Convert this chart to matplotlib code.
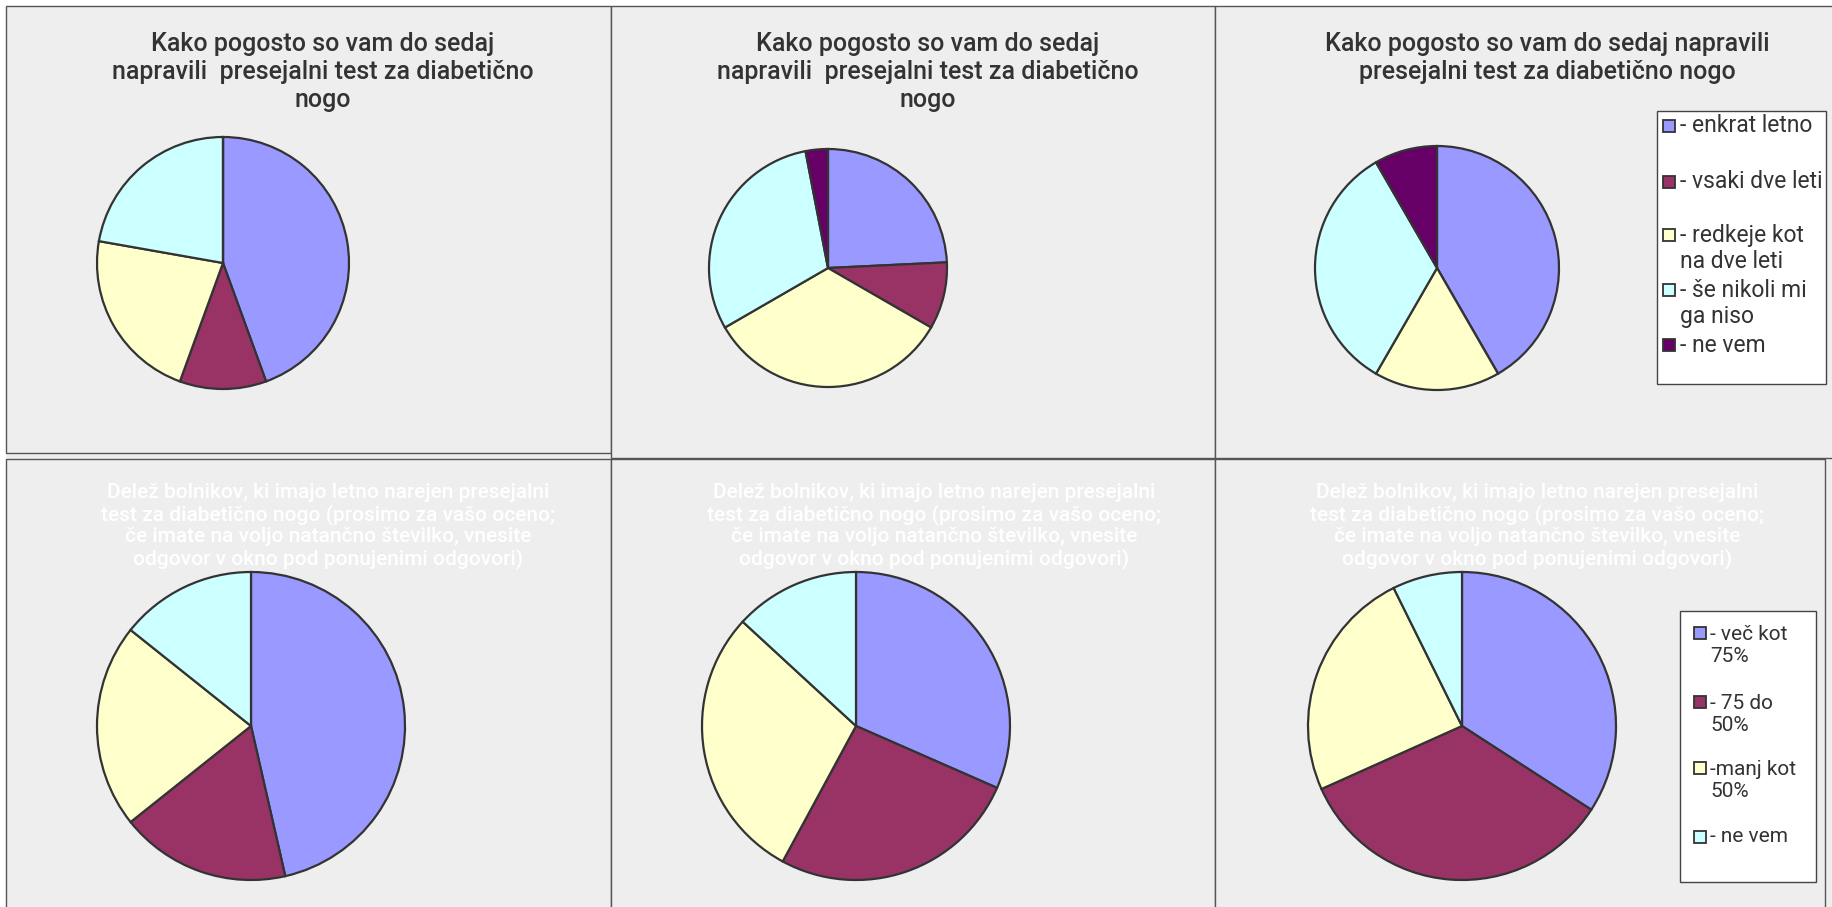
import matplotlib.pyplot as plt
from matplotlib.patches import Rectangle

W, H = 1833, 907

# ---------------- data ----------------
freq_labels = ["- enkrat letno", "- vsaki dve leti", "- redkeje kot\nna dve leti",
               "- še nikoli mi\nga niso", "- ne vem"]
freq_a = [4, 1, 2, 2, 0]
freq_b = [8, 3, 11, 10, 1]
freq_c = [5, 0, 2, 4, 1]
freq_colors = ["#9999FF", "#993366", "#FFFFCC", "#CCFFFF", "#660066"]

share_labels = ["- več kot\n75%", "- 75 do\n50%", "-manj kot\n50%", "- ne vem"]
share_a = [13, 5, 6, 4]
share_b = [12, 10, 11, 5]
share_c = [14, 14, 10, 3]
share_colors = ["#9999FF", "#993366", "#FFFFCC", "#CCFFFF"]

title_top_2 = "Kako pogosto so vam do sedaj\nnapravili  presejalni test za diabetično\nnogo"
title_top_1 = "Kako pogosto so vam do sedaj napravili\npresejalni test za diabetično nogo"
title_bottom = ("Delež bolnikov, ki imajo letno narejen presejalni\n"
                "test za diabetično nogo (prosimo za vašo oceno;\n"
                "če imate na voljo natančno številko, vnesite\n"
                "odgovor v okno pod ponujenimi odgovori)")

plt.rcParams['font.family'] = ['Roboto', 'DejaVu Sans']
fig = plt.figure(figsize=(W / 100, H / 100), dpi=100, facecolor="white")


def fx(x):
    return x / W


def fy(y):
    return 1 - y / H


def box(x0, y0, x1, y1, fc, ec="#555555", lw=1.0, z=-5):
    fig.add_artist(Rectangle((fx(x0), fy(y1)), (x1 - x0) / W, (y1 - y0) / H,
                             transform=fig.transFigure, fc=fc, ec=ec, lw=lw,
                             zorder=z))


# panel backgrounds
box(6, 6, W + 5, H + 5, "#EEEEEE", ec="none", z=-6)
box(6, 6, 611, 453, "#EEEEEE")
box(611, 6, 1215, 458, "#EEEEEE")
box(1215, 6, W + 5, 458, "#EEEEEE")
box(6, 459, 611, H + 5, "#EEEEEE")
box(611, 459, 1215, H + 5, "#EEEEEE")
box(1215, 459, 1825, H + 5, "#EEEEEE")


def pie(cx, cy, r, vals, cols):
    pad = 3
    ax = fig.add_axes([fx(cx - r - pad), fy(cy + r + pad),
                       2 * (r + pad) / W, 2 * (r + pad) / H])
    ax.pie(vals, colors=cols, startangle=90, counterclock=False, radius=r,
           wedgeprops=dict(edgecolor="#333333", linewidth=1.6))
    ax.set_xlim(-r - pad, r + pad)
    ax.set_ylim(-r - pad, r + pad)
    ax.set_aspect("equal")
    ax.axis("off")


pie(223, 263, 126, freq_a, freq_colors)
pie(828, 268, 119, freq_b, freq_colors)
pie(1437, 268, 122, freq_c, freq_colors)
pie(251, 726, 154, share_a, share_colors)
pie(856, 726, 154, share_b, share_colors)
pie(1462, 726, 154, share_c, share_colors)

# titles
tkw = dict(ha="center", va="center", fontsize=18, color="#333333",
           linespacing=1.2, fontweight="medium")
fig.text(fx(323), fy(72), title_top_2, **tkw)
fig.text(fx(928), fy(72), title_top_2, **tkw)
fig.text(fx(1547), fy(58), title_top_1, **tkw)
bkw = dict(ha="center", va="center", fontsize=15, color="#FFFFFF",
           linespacing=1.15, fontweight="medium")
for x in (328, 934, 1537):
    fig.text(fx(x), fy(526), title_bottom, **bkw)


def legend(x0, y0, x1, y1, labels, cols, firsts, mx, tx, gap, size):
    box(x0, y0, x1, y1, "white", ec="#444444", z=2)
    for lab, c, yy in zip(labels, cols, firsts):
        box(mx, yy - 6, mx + 12, yy + 6, c, ec="#333333", lw=1.3, z=3)
        n = lab.count("\n")
        fig.text(fx(tx), fy(yy + n * gap / 2), lab, ha="left", va="center",
                 fontsize=size, color="#333333", linespacing=1.2, zorder=4)


legend(1657, 111, 1826, 384, freq_labels, freq_colors,
       [126, 182, 235, 290, 345], 1663, 1680, 27, 16.5)
legend(1680, 611, 1816, 882, share_labels, share_colors,
       [633, 702, 768, 837], 1694, 1710, 25, 15)

fig.savefig("out.png", dpi=100, facecolor="white")
